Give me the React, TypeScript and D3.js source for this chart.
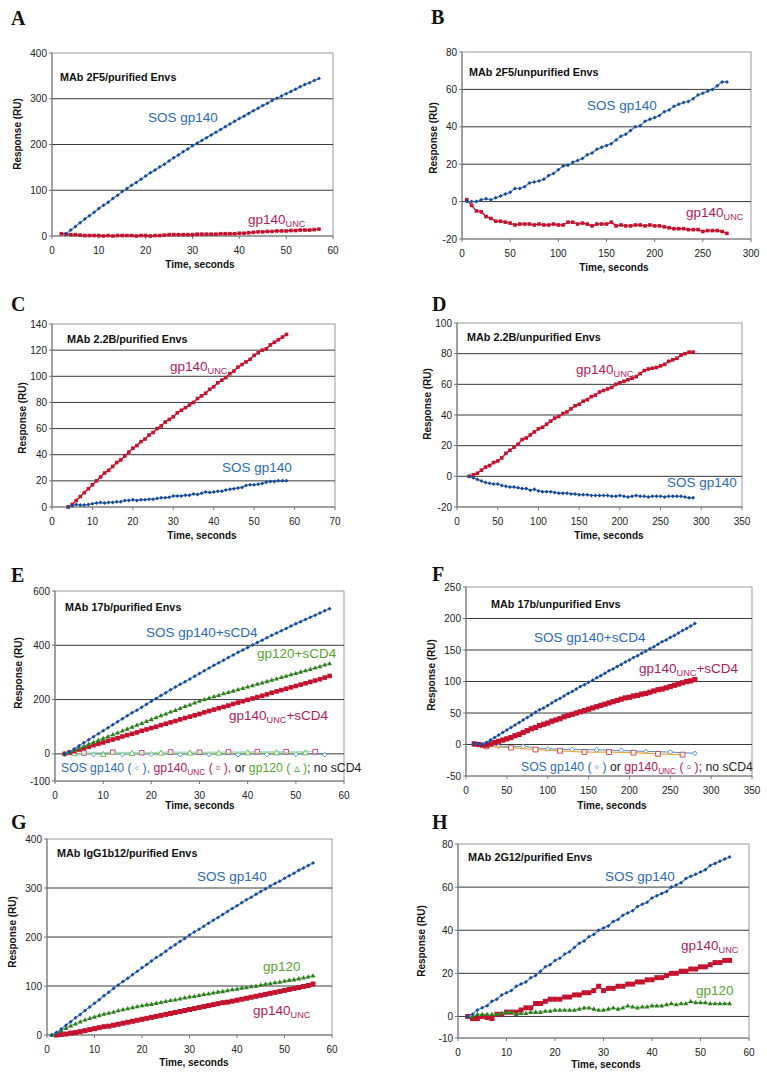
import React from "react";
import * as d3 from "d3";

// sampling times (seconds) and responses (RU)

// A: MAb 2F5 / purified Envs
const aSosT = d3.range(3, 58);
const aSos = [5,13,21,29,37,44,52,60,67,74,82,89,97,104,111,117,124,131,138,144,151,157,164,171,177,184,190,197,203,209,215,221,227,233,239,245,251,257,262,268,274,279,285,290,296,301,306,311,316,321,326,331,335,340,344];
const aUncT = d3.range(2, 58);
const aUnc = [5,4,3,3,2,1,1,1,1,0,1,0,1,1,1,1,0,1,1,0,1,1,2,3,3,3,3,3,3,4,4,4,4,4,5,5,5,5,6,6,7,8,9,9,10,10,11,11,11,12,12,13,13,13,14,15];

// B: MAb 2F5 / unpurified Envs
const bT = d3.range(5, 280, 5);
const bSos = [0,0,0,1,1.5,1,2,3,4,5,7,7,8,10,10.5,11,12,14,15,17,19,19.5,21,22,23,25,26,28,29,30,31,33,35,36,38,40,40.5,43,44,45,46,48,49,51,52,53,53.5,55,57,58,59,60,62,64,64];
const bUnc = [1,-2,-5,-5.5,-8,-9,-10.5,-10.5,-11,-11.5,-12.5,-12,-12,-12,-12.5,-12,-12.5,-12.5,-12,-12.5,-12.5,-11,-11,-12,-11.5,-12,-13,-12,-12,-12,-11,-13,-12.5,-13,-13,-12.5,-12.5,-13,-12.5,-13,-13,-13.5,-14,-14.5,-14.5,-14.5,-15,-15,-15,-16,-15.5,-15.5,-15.5,-16,-17];

// C: MAb 2.2B / purified Envs
const cT = d3.range(4, 59);
const cUnc = [0,2,5,8,11,14,17,20,23,26,28,31,34,36,39,42,45,47,50,52,55,57,60,62,65,67,69,72,74,76,78,80,83,85,87,90,92,95,97,99,102,104,107,109,111,113,116,118,120,121,124,126,128,130,132];
const cSos = [0,1,2,1.5,1.5,2,2.5,3,3.5,3,3.5,3.5,4,4,5,5,5.5,5,5.5,5.5,6,6,6.5,7,7,7.5,8.5,8.5,8.5,9,9,10,9.5,10.5,11.5,11,11.5,12,12,13,13.5,14,14.5,15,16.5,17,17,17.5,18,19,19.5,19.5,20,20,20];

// D: MAb 2.2B / unpurified Envs
const dT = d3.range(15, 295, 5);
const dUnc = [0,1,2,4,6,7,9,10,12,15,17,19,21,24,25,27,29,31,32,34,36,38,39,41,42,44,46,47,49,50,52,53,55,56,57,58,60,61,62,63,64,65,67,69,70,70.5,71,72,73,75,76,77,79,80,81,81];
const dSos = [0,-1,-2,-3,-4,-4.5,-5,-5,-6,-6.5,-7,-7,-7.5,-8,-8,-9,-8.5,-9.5,-10,-10,-10,-10.5,-11,-11,-11,-11.5,-11.5,-12,-12,-12,-12.5,-12.5,-12.5,-12.5,-12.5,-13,-13,-12.5,-13,-13.5,-13,-12.5,-13,-13,-13.5,-13,-13,-13,-13.5,-13,-13,-13,-13,-13.5,-14,-14];

// E: MAb 17b / purified Envs
const eT = d3.range(2, 58);
const eSos = [0,8,18,30,41,52,63,74,85,96,107,118,129,140,151,161,172,183,194,204,215,225,236,246,256,266,276,286,296,306,316,326,336,345,355,364,374,383,392,401,410,419,428,437,445,454,462,471,479,487,495,503,511,519,527,535];
const eGp120 = [0,7,14,21,28,36,43,50,57,64,71,78,85,92,99,106,113,120,127,134,141,148,155,161,168,175,181,188,195,200,206,211,216,222,227,232,237,242,247,252,257,262,267,272,277,282,287,292,297,302,307,312,317,322,328,333];
const eUnc = [0,5,10,16,21,26,32,37,42,48,53,58,64,69,74,79,85,90,95,100,106,111,116,121,127,132,137,142,147,153,158,163,168,173,178,184,189,194,199,204,209,214,219,225,230,235,240,245,250,255,260,265,270,275,281,287];
const eSosNoT = [2,8,14,20,26,32,38,44,50,56];
const eSosNo = [-1,-2,-2,-1,-3,-2,-3,-2,-2,-3];
const eUncNoT = [6,12,18,24,30,36,42,48,54];
const eUncNo = [3,6,4,7,6,7,8,8,8];
const eGpNoT = [4,10,16,22,28,34,40,46,52];
const eGpNo = [1,-2,2,3,3,3,4,4,4];

// F: MAb 17b / unpurified Envs
const fT = d3.range(10, 285, 5);
const fSos = [1,1,0,3,7,11,15,19,23,27,31,35,39,43,47,51,55,58,62,66,70,73,77,81,84,88,92,95,99,102,106,109,113,117,120,124,127,131,134,138,141,145,148,152,155,159,163,166,170,173,177,181,184,188,192];
const fUnc = [1,0,-1,-1,1,3,5,7,9,11,14,16,19,22,25,27,30,32,34,37,39,41,44,46,48,50,52,54,56,58,60,62,64,66,68,70,72,74,75,77,78,80,81,83,85,87,88,90,92,94,96,98,100,101,103];
const fSosNoT = [10,40,70,100,130,160,190,220,250,280];
const fSosNo = [0,-3,-3,-7,-8,-8.5,-9.5,-11,-12,-14];
const fUncNoT = [25,55,85,115,145,175,205,235,265];
const fUncNo = [-3,-5,-8,-10,-12,-12,-13,-15,-16];

// G: MAb IgG1b12 / purified Envs
const gT = d3.range(1, 57);
const gSos = [0,5,12,20,27,35,42,50,57,65,72,80,87,95,102,109,116,123,130,137,144,151,158,164,171,178,184,191,197,204,210,216,222,228,234,240,246,252,258,264,270,276,281,287,293,298,304,309,314,320,325,330,336,341,346,351];
const gGp120 = [0,4,9,14,19,23,27,31,34,37,40,43,45,47,50,52,54,56,58,60,62,63,65,67,69,71,72,74,76,78,79,81,83,84,86,88,89,91,93,94,96,97,99,100,102,104,105,107,108,110,112,113,115,117,119,121];
const gUncT = d3.range(2, 57);
const gUnc = [0,1,2,4,5,7,9,11,13,15,17,18,20,22,24,26,28,30,32,34,36,38,40,42,44,46,48,50,52,54,56,58,60,62,64,66,67,69,71,73,75,77,79,81,83,85,87,89,91,93,95,97,99,101,104];

// H: MAb 2G12 / purified Envs
const hT = d3.range(2, 57);
const hSos = [0,1,3,4,5,7,8,10,11,12,14,15,16,18,19,21,23,24,26,27,29,30,32,34,35,37,38,40,41,42,44,45,47,48,49,51,52,53,55,56,57,58,60,61,62,64,65,66,67,68,70,71,72,73,74];
const hUnc = [0,-1,-1,0,-0.5,-1,1,1,2,2,2,3,4,4,6,6,7,8,8,8,9,9,10,10,11,11,12,14,12,13,13,14,14,15,15,16,16,17,17,18,18,19,20,20,21,21,22,22,23,23,24,25,25,26,26];
const hGp120 = [0,0,1,1,1,1,1,1.5,2,2,1,1.5,1.5,2,2,2,2.5,2.5,3,3,3,3,3,3.5,4,4,3.5,3,3,3.5,4,3.5,4,5,4.5,4,4.5,4.5,5,5,5,5.5,6,5.5,6,6,7,6.5,6.5,6.5,6,6,6,6,6];

const FONT = "'Liberation Sans', Arial, Helvetica, sans-serif";
const SERIF = "'Liberation Serif', 'Times New Roman', serif";

const BLUE_LINE = "#3f7fcc";
const BLUE_MARK = "#1b4a92";
const RED = "#c4122f";
const GREEN_LINE = "#62b043";
const GREEN_MARK = "#2e7d22";
const BLUE_TXT = "#2c6bb4";
const UNC_TXT = "#b3195a";
const GREEN_TXT = "#58a332";

type Shape = "diamond" | "square" | "triangle";
type Series = {
  t: number[];
  v: number[];
  shape: Shape;
  mark: string;
  line: string;
  r: number;
  lw: number;
  open?: boolean;
};
type Seg = { s: string; sub?: boolean; c?: string };
type Label = { x: number; y: number; segs: Seg[]; size?: number; c?: string };
type PanelCfg = {
  letter: string;
  lx: number;
  ly: number;
  box: [number, number, number, number]; // left, right, top, bottom
  xDom: [number, number];
  xTicks: number[];
  yDom: [number, number];
  yTicks: number[];
  title: string;
  tx: number;
  ty: number;
  yLab: [number, number];
  xLab: [number, number];
  series: Series[];
  labels: Label[];
};

const sosS = (t: number[], v: number[]): Series => ({ t, v, shape: "diamond", mark: BLUE_MARK, line: BLUE_LINE, r: 2, lw: 1.2 });
const uncS = (t: number[], v: number[], r = 1.8): Series => ({ t, v, shape: "square", mark: RED, line: RED, r, lw: 1.4 });
const gpS = (t: number[], v: number[]): Series => ({ t, v, shape: "triangle", mark: GREEN_MARK, line: GREEN_LINE, r: 2.2, lw: 1.1 });

const sosTxt = (x: number, y: number, extra = ""): Label => ({ x, y, c: BLUE_TXT, segs: [{ s: "SOS gp140" + extra }] });
const uncTxt = (x: number, y: number, extra = ""): Label => ({
  x, y, c: UNC_TXT,
  segs: extra ? [{ s: "gp140" }, { s: "UNC", sub: true }, { s: extra }] : [{ s: "gp140" }, { s: "UNC", sub: true }],
});
const gpTxt = (x: number, y: number, extra = ""): Label => ({ x, y, c: GREEN_TXT, segs: [{ s: "gp120" + extra }] });

const panels: PanelCfg[] = [
  {
    letter: "A", lx: 11, ly: 25, box: [52, 333, 53, 236],
    xDom: [0, 60], xTicks: [0, 10, 20, 30, 40, 50, 60],
    yDom: [0, 400], yTicks: [0, 100, 200, 300, 400],
    title: "MAb 2F5/purified Envs", tx: 60, ty: 81, yLab: [17, 134], xLab: [200, 268],
    series: [uncS(aUncT, aUnc), sosS(aSosT, aSos)],
    labels: [sosTxt(148, 122), uncTxt(248, 224)],
  },
  {
    letter: "B", lx: 431, ly: 24, box: [462, 751, 52, 239],
    xDom: [0, 300], xTicks: [0, 50, 100, 150, 200, 250, 300],
    yDom: [-20, 80], yTicks: [-20, 0, 20, 40, 60, 80],
    title: "MAb 2F5/unpurified Envs", tx: 469, ty: 76, yLab: [433, 138], xLab: [614, 271],
    series: [uncS(bT, bUnc), sosS(bT, bSos)],
    labels: [sosTxt(587, 110), uncTxt(686, 217)],
  },
  {
    letter: "C", lx: 11, ly: 311, box: [52, 335, 324, 507],
    xDom: [0, 70], xTicks: [0, 10, 20, 30, 40, 50, 60, 70],
    yDom: [0, 140], yTicks: [0, 20, 40, 60, 80, 100, 120, 140],
    title: "MAb 2.2B/purified Envs", tx: 67, ty: 343, yLab: [22, 418], xLab: [202, 539],
    series: [uncS(cT, cUnc), sosS(cT, cSos)],
    labels: [uncTxt(170, 371), sosTxt(222, 472)],
  },
  {
    letter: "D", lx: 432, ly: 311, box: [457, 742, 323, 507],
    xDom: [0, 350], xTicks: [0, 50, 100, 150, 200, 250, 300, 350],
    yDom: [-20, 100], yTicks: [-20, 0, 20, 40, 60, 80, 100],
    title: "MAb 2.2B/unpurified Envs", tx: 467, ty: 341, yLab: [427, 404], xLab: [609, 539],
    series: [uncS(dT, dUnc), sosS(dT, dSos)],
    labels: [uncTxt(576, 374), sosTxt(667, 487)],
  },
  {
    letter: "E", lx: 11, ly: 582, box: [55, 344, 591, 781],
    xDom: [0, 60], xTicks: [0, 10, 20, 30, 40, 50, 60],
    yDom: [-100, 600], yTicks: [-100, 0, 200, 400, 600],
    title: "MAb 17b/purified Envs", tx: 65, ty: 611, yLab: [18, 673], xLab: [200, 809],
    series: [
      { t: eSosNoT, v: eSosNo, shape: "diamond", mark: "#3d86d6", line: "#7fb8e8", r: 2.4, lw: 1, open: true },
      { t: eUncNoT, v: eUncNo, shape: "square", mark: "#c8326e", line: "#9fd6c6", r: 2.3, lw: 1, open: true },
      { t: eGpNoT, v: eGpNo, shape: "triangle", mark: "#66b84a", line: "#a9d98f", r: 2.6, lw: 1, open: true },
      uncS(eT, eUnc, 2.3), gpS(eT, eGp120), sosS(eT, eSos),
    ],
    labels: [
      sosTxt(146, 637, "+sCD4"), gpTxt(257, 658, "+sCD4"), uncTxt(229, 720, "+sCD4"),
      {
        x: 61, y: 772, size: 12.2, c: "#222",
        segs: [
          { s: "SOS gp140 ( ", c: BLUE_TXT }, { s: "◦", c: BLUE_TXT }, { s: " ), ", c: BLUE_TXT },
          { s: "gp140", c: UNC_TXT }, { s: "UNC", sub: true, c: UNC_TXT }, { s: " ( ▫ ), ", c: UNC_TXT },
          { s: "or " }, { s: "gp120 ( ▵ )", c: GREEN_TXT }, { s: "; no sCD4" },
        ],
      },
    ],
  },
  {
    letter: "F", lx: 432, ly: 581, box: [466, 752, 587, 776],
    xDom: [0, 350], xTicks: [0, 50, 100, 150, 200, 250, 300, 350],
    yDom: [-50, 250], yTicks: [-50, 0, 50, 100, 150, 200, 250],
    title: "MAb 17b/unpurified Envs", tx: 491, ty: 608, yLab: [431, 675], xLab: [612, 809],
    series: [
      { t: fSosNoT, v: fSosNo, shape: "diamond", mark: "#3d86d6", line: "#4f8fd4", r: 2.4, lw: 1, open: true },
      { t: fUncNoT, v: fUncNo, shape: "square", mark: "#d23a3a", line: "#f2a640", r: 2.4, lw: 1.2, open: true },
      uncS(fT, fUnc, 2.6), sosS(fT, fSos),
    ],
    labels: [
      sosTxt(534, 642, "+sCD4"), uncTxt(639, 673, "+sCD4"),
      {
        x: 521, y: 771, size: 12.2, c: "#222",
        segs: [
          { s: "SOS gp140 ( ◦ )", c: BLUE_TXT }, { s: " or " },
          { s: "gp140", c: UNC_TXT }, { s: "UNC", sub: true, c: UNC_TXT }, { s: " ( ▫ )", c: UNC_TXT },
          { s: "; no sCD4" },
        ],
      },
    ],
  },
  {
    letter: "G", lx: 11, ly: 829, box: [47, 332, 839, 1035],
    xDom: [0, 60], xTicks: [0, 10, 20, 30, 40, 50, 60],
    yDom: [0, 400], yTicks: [0, 100, 200, 300, 400],
    title: "MAb IgG1b12/purified Envs", tx: 57, ty: 857, yLab: [12, 932], xLab: [194, 1066],
    series: [uncS(gUncT, gUnc, 2.5), gpS(gT, gGp120), sosS(gT, gSos)],
    labels: [sosTxt(197, 881), gpTxt(263, 971), uncTxt(253, 1015)],
  },
  {
    letter: "H", lx: 432, ly: 829, box: [458, 749, 844, 1038],
    xDom: [0, 60], xTicks: [0, 10, 20, 30, 40, 50, 60],
    yDom: [-10, 80], yTicks: [-10, 0, 20, 40, 60, 80],
    title: "MAb 2G12/purified Envs", tx: 468, ty: 861, yLab: [421, 941], xLab: [606, 1068],
    series: [uncS(hT, hUnc, 2.5), gpS(hT, hGp120), sosS(hT, hSos)],
    labels: [sosTxt(605, 881), uncTxt(681, 950), gpTxt(696, 995)],
  },
];

function markPath(shape: Shape, r: number): string {
  if (shape === "diamond") return `M0,${-r}L${r},0L0,${r}L${-r},0Z`;
  if (shape === "square") return `M${-r},${-r}H${r}V${r}H${-r}Z`;
  return `M0,${-r * 1.15}L${r * 1.1},${r * 0.8}L${-r * 1.1},${r * 0.8}Z`;
}

function LabelText({ l }: { l: Label }) {
  const size = l.size ?? 13.5;
  const sh = size * 0.24;
  let prevSub = false;
  return (
    <text x={l.x} y={l.y} fontSize={size} fontFamily={FONT} fill={l.c}>
      {l.segs.map((g, i) => {
        const dy = (g.sub ? sh : 0) - (prevSub ? sh : 0);
        prevSub = !!g.sub;
        return (
          <tspan key={i} dy={dy || undefined} fontSize={g.sub ? size * 0.68 : undefined} fill={g.c}>
            {g.s}
          </tspan>
        );
      })}
    </text>
  );
}

function Panel({ p }: { p: PanelCfg }) {
  const [l, r, t, b] = p.box;
  const x = d3.scaleLinear().domain(p.xDom).range([l, r]);
  const y = d3.scaleLinear().domain(p.yDom).range([b, t]);
  const line = d3.line<[number, number]>().x((d) => x(d[0])).y((d) => y(d[1]));

  return (
    <g>
      <text x={p.lx} y={p.ly} fontFamily={SERIF} fontWeight="bold" fontSize={20} fill="#111">
        {p.letter}
      </text>
      {/* frame */}
      <rect x={l} y={t} width={r - l} height={b - t} fill="none" stroke="#9a9a9a" strokeWidth={1} />
      {/* gridlines */}
      {p.yTicks
        .filter((v) => v !== p.yDom[0] && v !== p.yDom[1])
        .map((v) => (
          <line key={v} x1={l} x2={r} y1={y(v)} y2={y(v)} stroke="#3a3a3a" strokeWidth={1} />
        ))}
      {/* axes */}
      <line x1={l} x2={l} y1={t} y2={b} stroke="#777" />
      <line x1={l} x2={r} y1={b} y2={b} stroke="#777" />
      {p.yTicks.map((v) => (
        <g key={"y" + v}>
          <line x1={l - 3} x2={l} y1={y(v)} y2={y(v)} stroke="#777" />
          <text x={l - 5} y={y(v) + 3.6} textAnchor="end" fontSize={10} fontFamily={FONT} fill="#222">
            {v}
          </text>
        </g>
      ))}
      {p.xTicks.map((v) => (
        <g key={"x" + v}>
          <line x1={x(v)} x2={x(v)} y1={b} y2={b + 3} stroke="#777" />
          <text x={x(v)} y={b + 17.5} textAnchor="middle" fontSize={10} fontFamily={FONT} fill="#222">
            {v}
          </text>
        </g>
      ))}
      <text
        transform={`translate(${p.yLab[0] + 3.6},${p.yLab[1]}) rotate(-90)`}
        textAnchor="middle" fontSize={10} fontWeight="bold" fontFamily={FONT} fill="#111"
      >
        Response (RU)
      </text>
      <text x={p.xLab[0]} y={p.xLab[1]} textAnchor="middle" fontSize={10} fontWeight="bold" fontFamily={FONT} fill="#111">
        Time, seconds
      </text>
      <text x={p.tx} y={p.ty} fontSize={10.8} fontWeight="bold" fontFamily={FONT} fill="#111">
        {p.title}
      </text>
      {/* series */}
      {p.series.map((s, i) => {
        const pts = s.t.map((tt, k) => [tt, s.v[k]] as [number, number]);
        const d = markPath(s.shape, s.r);
        return (
          <g key={i}>
            <path d={line(pts) ?? ""} fill="none" stroke={s.line} strokeWidth={s.lw} />
            {pts.map((pt, k) => (
              <path
                key={k}
                d={d}
                transform={`translate(${x(pt[0])},${y(pt[1])})`}
                fill={s.open ? "#fff" : s.mark}
                stroke={s.open ? s.mark : "none"}
                strokeWidth={s.open ? 0.9 : 0}
              />
            ))}
          </g>
        );
      })}
      {p.labels.map((lb, i) => (
        <LabelText key={i} l={lb} />
      ))}
    </g>
  );
}

export default function App() {
  return (
    <svg
      width={767}
      height={1075}
      viewBox="0 0 767 1075"
      style={{ position: "absolute", left: 0, top: 0, background: "#fff" }}
    >
      <rect x={0} y={0} width={767} height={1075} fill="#fff" />
      {panels.map((p) => (
        <Panel key={p.letter} p={p} />
      ))}
    </svg>
  );
}
